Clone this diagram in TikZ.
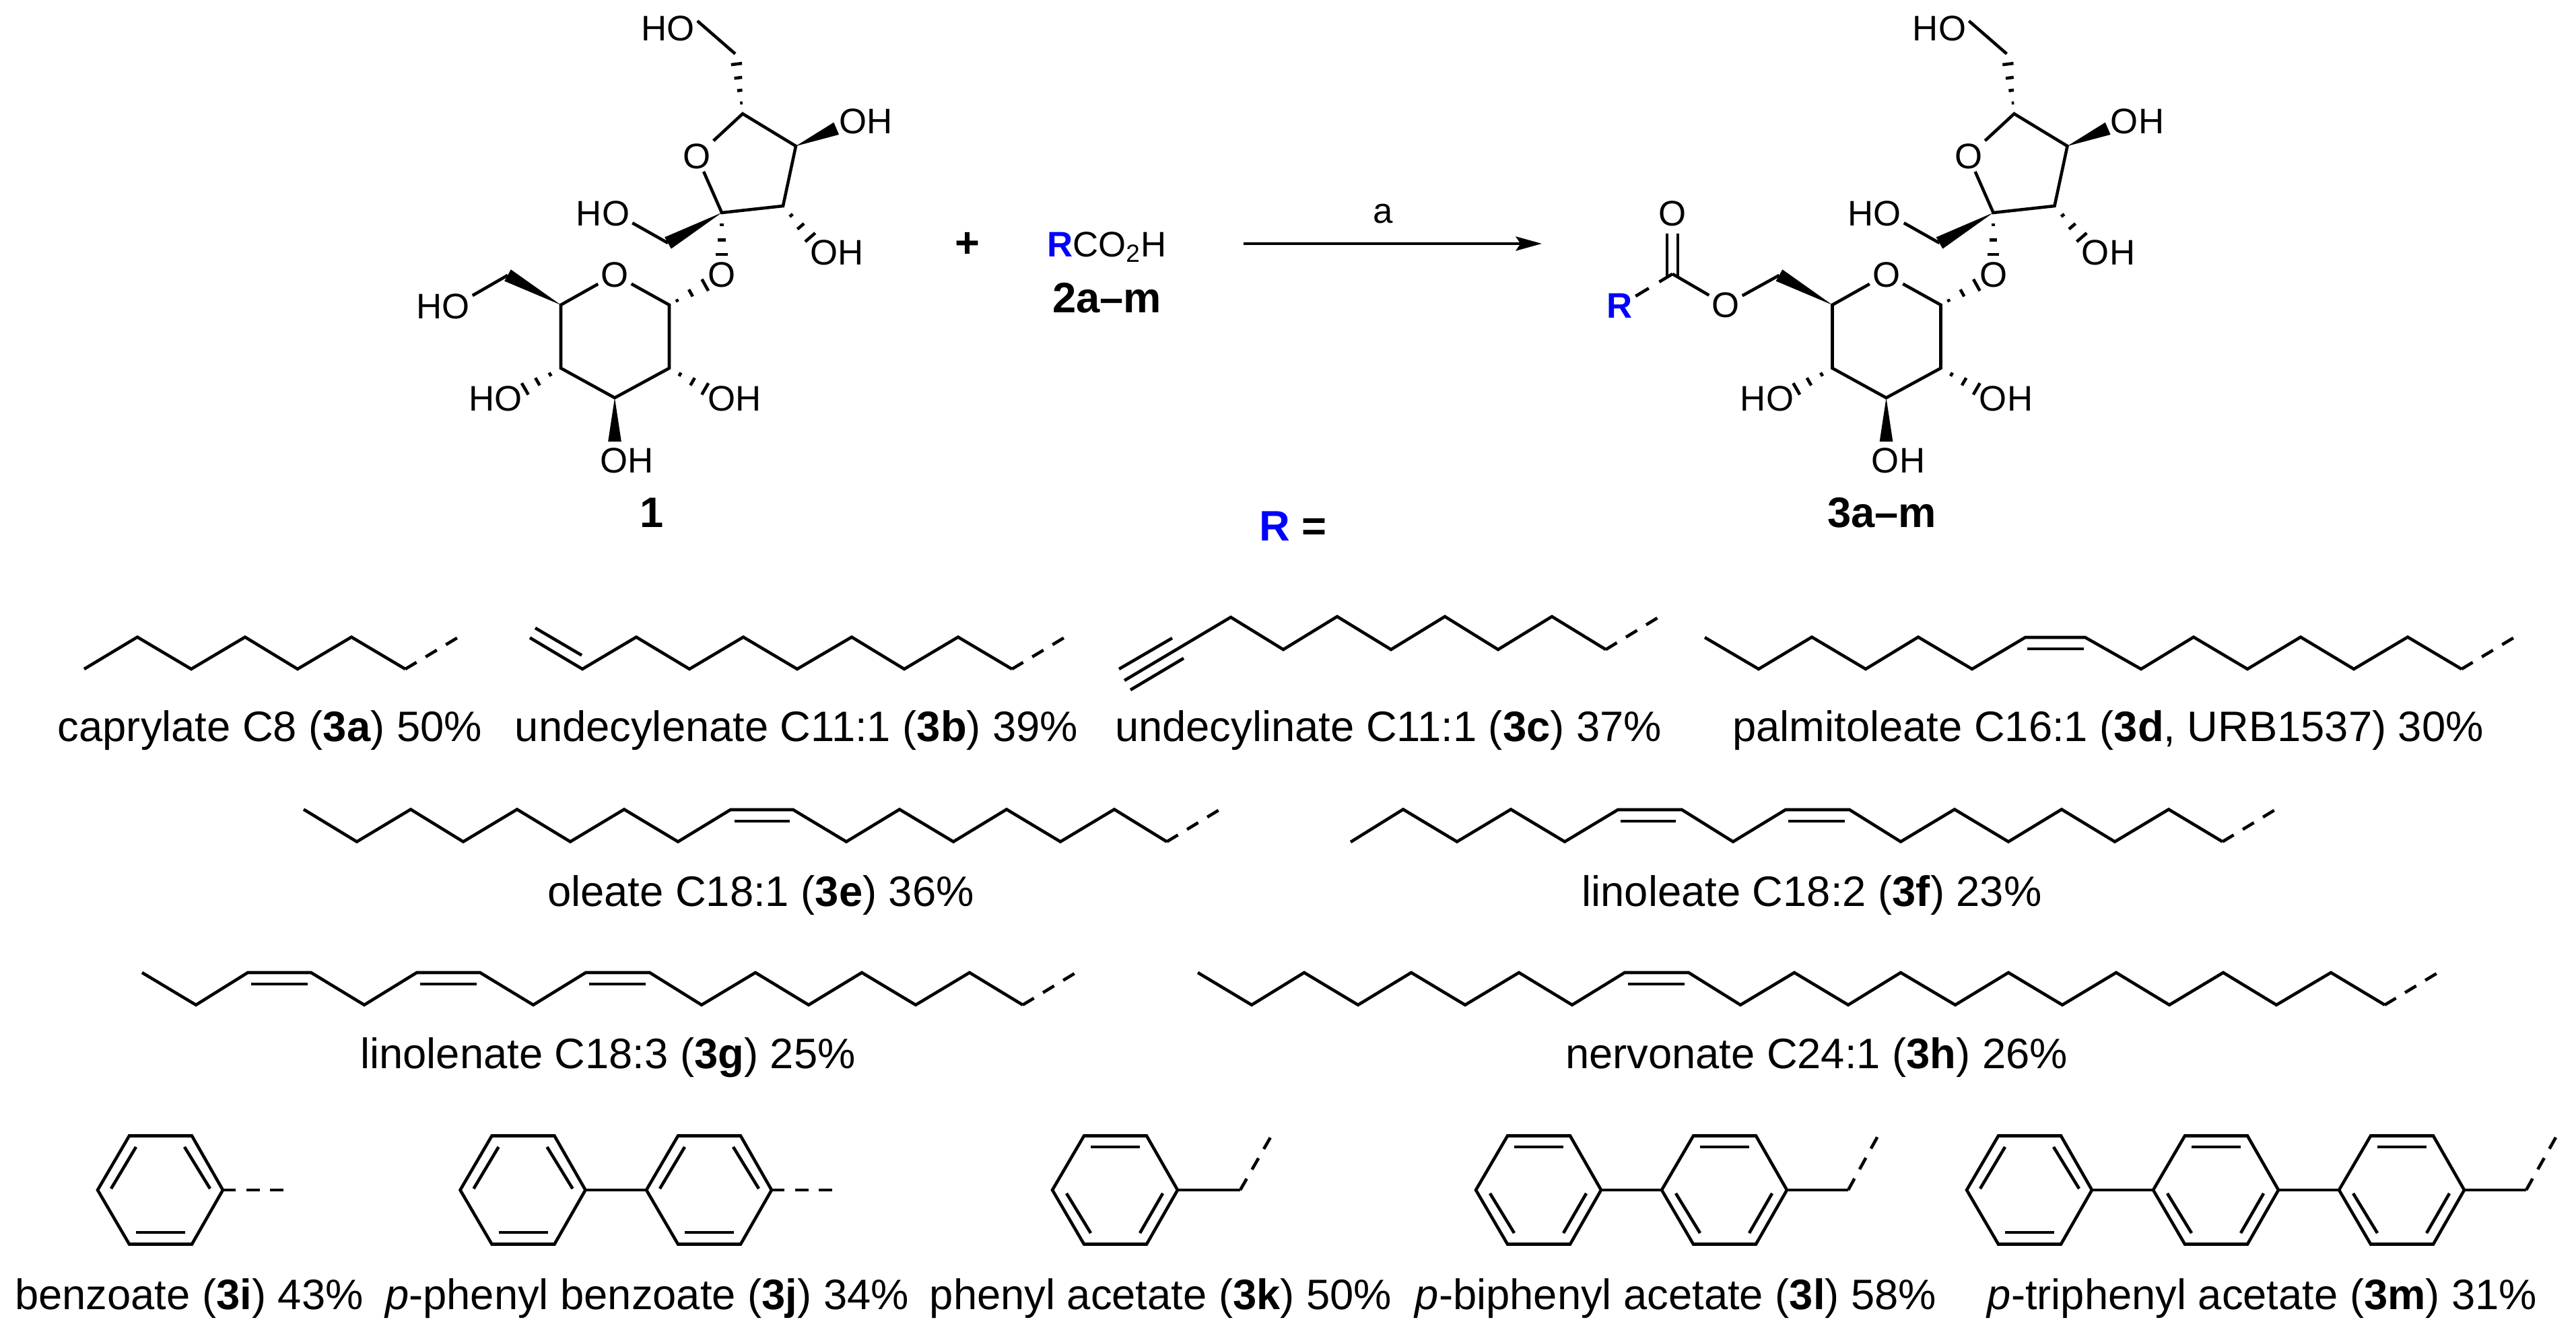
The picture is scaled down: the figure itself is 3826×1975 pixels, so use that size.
\documentclass[tikz,border=0pt]{standalone}
\usepackage{fontspec}
\setmainfont{Liberation Sans}
\usetikzlibrary{positioning,calc,arrows.meta}

\newcommand*{\atomfont}{\fontsize{15}{18}\selectfont}
\newcommand*{\labfont}{\fontsize{18}{20}\selectfont}

\tikzset{
    bond/.style={line width=1.3pt, line join=miter},
    dangle/.style={line width=1.3pt, dash pattern=on 5.5pt off 4.5pt},
    atom/.style={font=\atomfont, inner sep=1pt},
    lab/.style={font=\labfont, inner sep=0pt, anchor=base},
}

\newcommand*{\wedgebond}[2]{%
    \fill ($(#2)!2.8pt!90:(#1)$) -- (#1) -- ($(#2)!2.8pt!-90:(#1)$) -- cycle;
}
\newcommand*{\hashbond}[3][.3,.65,1]{%
    \foreach \frc in {#1} {
        \pgfmathsetmacro{\hw}{\frc*2.8}
        \coordinate (hm) at ($(#2)!\frc!(#3)$);
        \draw[bond] ($(hm)!\hw pt!90:(#2)$) -- ($(hm)!\hw pt!-90:(#2)$);
    }
}
% hexagon with two inner lines above, one below
\newcommand*{\ringup}[2]{%
    \draw[bond] (#2-93,1768) coordinate (#1l) -- ++(47,-80.5) -- ++(93,0) -- ++(46,80.5) coordinate (#1r) -- ++(-46,80.5) -- ++(-93,0) -- cycle;
    \draw[bond] (#2-36,1704) -- (#2-73,1766);
    \draw[bond] (#2+36,1704) -- (#2+74,1766);
    \draw[bond] (#2-36,1831) -- (#2+37,1831);
}
% hexagon with one inner line above, two below
\newcommand*{\ringdown}[2]{%
    \draw[bond] (#2-93,1768) coordinate (#1l) -- ++(47,-80.5) -- ++(93,0) -- ++(46,80.5) coordinate (#1r) -- ++(-46,80.5) -- ++(-93,0) -- cycle;
    \draw[bond] (#2-36,1704) -- (#2+37,1704);
    \draw[bond] (#2-72,1773) -- (#2-36,1832);
    \draw[bond] (#2+71,1773) -- (#2+37,1832);
}
\newcommand*{\sugarcore}{%
    \node[atom] (o5f) at (1035,232) {O};
    \node[atom] (ho6f) at (992,42) {HO};
    \node[atom] (oh4f) at (1286,180) {OH};
    \node[atom] (oh3f) at (1243,375.5) {OH};
    \node[atom] (ho1f) at (895.5,317) {HO};
    \node[atom] (og) at (1072,408) {O};
    \node[atom] (o5) at (913,408) {O};
    \node[atom] (oh2) at (1091,592) {OH};
    \node[atom] (ho4) at (736,592) {HO};
    \node[atom] (oh3) at (931,684) {OH};

    \coordinate (c6f) at (1092,80);
    \coordinate (c5f) at (1103,169);
    \coordinate (c4f) at (1182,217);
    \coordinate (c3f) at (1163,306);
    \coordinate (c2f) at (1072,316);
    \coordinate (c1f) at (992,361);
    \coordinate (c1) at (994,453);
    \coordinate (c2) at (994,547);
    \coordinate (c3) at (913,591);
    \coordinate (c4) at (833,547);
    \coordinate (c5) at (833,453);
    \coordinate (c6) at (754,409);
    \coordinate (c3w) at (913,656);

    \draw[bond] (o5f) -- (c5f) -- (c4f) -- (c3f) -- (c2f) -- (o5f);
    \draw[bond] (o5) -- (c1) -- (c2) -- (c3) -- (c4) -- (c5) -- (o5);
    \draw[bond] (c6f) -- (ho6f.14);
    \draw[bond] (c1f) -- (ho1f.342);

    \wedgebond{c4f}{oh4f.194}
    \wedgebond{c2f}{c1f}
    \wedgebond{c5}{c6}
    \wedgebond{c3}{c3w}

    \hashbond[.18,.39,.6,.83]{c5f}{c6f}
    \hashbond{c3f}{oh3f.150}
    \hashbond[.26,.59,.9]{c2f}{og.north}
    \hashbond[.22,.6,1]{c1}{og.212}
    \hashbond{c2}{oh2.162}
    \hashbond{c4}{ho4.18}
}

\begin{document}
\begin{tikzpicture}[x=0.01cm, y=-0.01cm, >={Stealth[length=11pt,width=6pt,inset=2pt]}]
    \useasboundingbox (0,0) rectangle (3826,1975);

    % sucrose
    \begin{scope}[name prefix=a-]
        \sugarcore
        \node[atom] (ho6) at (658,455) {HO};
        \draw[bond] (c6) -- (ho6.20);
    \end{scope}
    \node[lab, font=\labfont\bfseries] (oneLabel) at (968,783) {1};

    \node[lab, font=\labfont\bfseries, anchor=center] (plus) at (1437,364) {+};
    \node[atom, anchor=base, inner sep=0pt] (acid) at (1644,381) {\textcolor{blue}{\textbf{R}}CO\textsubscript{2}H};
    \node[lab, font=\labfont\bfseries] (twoLabel) at (1644,464) {2a--m};

    \coordinate (arrowL) at (1846.5,362);
    \coordinate (arrowR) at (2290,362);
    \draw[->, line width=1.15pt] (arrowL) -- (arrowR);
    \node[atom, anchor=base, inner sep=0pt] (reagent) at (2054,331) {a};

    % ester
    \begin{scope}[name prefix=b-, shift={(1888.5,0)}]
        \sugarcore
    \end{scope}
    \node[atom] (oEster) at (2563,453) {O};
    \node[atom] (oCarb) at (2484,317) {O};
    \node[atom, font=\atomfont\bfseries, text=blue] (rGroup) at (2406,454) {R};
    \coordinate (cCarb) at (2484,407);
    \draw[bond] (oEster) -- (b-c6);
    \draw[bond] (cCarb) -- (oEster);
    \draw[bond, shorten <=2pt, shorten >=-1pt] ([xshift=-2.3pt]oCarb.south) -- ([xshift=-2.3pt]cCarb);
    \draw[bond, shorten <=2pt, shorten >=-1pt] ([xshift=2.3pt]oCarb.south) -- ([xshift=2.3pt]cCarb);
    \draw[bond, dash pattern=on 6.5pt off 5.2pt] (cCarb) -- (rGroup.31);
    \node[lab, font=\labfont\bfseries] (threeLabel) at (2795,783) {3a--m};
    \node[lab, font=\labfont\bfseries, anchor=base west] (rLabel) at (1869.5,803) {\textcolor{blue}{R} =};

    % first row of chains
    \draw[bond] (125,994) -- (204,946.5) -- (284,994) -- (364,946.5) -- (442,994) -- (522,946.5) -- (602,994) coordinate (endA);
    \draw[dangle] (endA) -- ++(79,-47.5);
    \node[lab] (aLabel) at (401,1101) {caprylate C8 (\textbf{3a}) 50\%};

    \draw[bond] (787,947.5) -- (865,994) -- (945,946.5) -- (1024,994) -- (1104,946.5) -- (1184,994) -- (1265,946.5) -- (1343,994) -- (1423,946.5) -- (1503,994) coordinate (endB);
    \draw[bond] (795,933) -- (864,973.5);
    \draw[dangle] (endB) -- ++(79,-47.5);
    \node[lab] (bLabel) at (1183,1101) {undecylenate C11:1 (\textbf{3b}) 39\%};

    \draw[bond] (1670,1011) -- (1828,917) -- (1906,965) -- (1986,916) -- (2066,965) -- (2146,916) -- (2225,965) -- (2305,916) -- (2385,965) coordinate (endC);
    \draw[bond] (1662,994) -- (1741,948);
    \draw[bond] (1679,1025) -- (1758,978);
    \draw[dangle] (endC) -- ++(80,-49);
    \node[lab] (cLabel) at (2062,1101) {undecylinate C11:1 (\textbf{3c}) 37\%};

    \draw[bond] (2532,947) -- (2612,994) -- (2691,946.5) -- (2771,994) -- (2849,946.5) -- (2929,994) -- (3008,947) -- (3097,947) -- (3180,994) -- (3258,946.5) -- (3338,994) -- (3417,946.5) -- (3496,994) -- (3576,946.5) -- (3656,994) coordinate (endD);
    \draw[bond] (3011,964) -- (3095,964);
    \draw[dangle] (endD) -- ++(79,-47.5);
    \node[lab] (dLabel) at (3131,1101) {palmitoleate C16:1 (\textbf{3d}, URB1537) 30\%};

    % second row of chains
    \draw[bond] (451,1202.5) -- (530,1250.5) -- (610,1202.5) -- (688,1250.5) -- (768,1202.5) -- (847,1250.5) -- (927,1202.5) -- (1007,1250.5) -- (1085,1203) -- (1178,1203) -- (1257,1250.5) -- (1336,1202.5) -- (1416,1250.5) -- (1495,1202.5) -- (1575,1250.5) -- (1655,1202.5) -- (1733,1250.5) coordinate (endE);
    \draw[bond] (1091,1220) -- (1173,1220);
    \draw[dangle] (endE) -- ++(79,-48);
    \node[lab] (eLabel) at (1130,1346) {oleate C18:1 (\textbf{3e}) 36\%};

    \draw[bond] (2006,1251) -- (2084,1202.5) -- (2164,1250.5) -- (2244,1202.5) -- (2324,1250.5) -- (2403,1203) -- (2498,1203) -- (2574,1250.5) -- (2652,1203) -- (2747,1203) -- (2823,1250.5) -- (2903,1202.5) -- (2983,1250.5) -- (3062,1202.5) -- (3141,1250.5) -- (3221,1202.5) -- (3301,1250.5) coordinate (endF);
    \draw[bond] (2407,1220) -- (2489,1220);
    \draw[bond] (2656,1220) -- (2740,1220);
    \draw[dangle] (endF) -- ++(79,-48);
    \node[lab] (fLabel) at (2691,1346) {linoleate C18:2 (\textbf{3f}) 23\%};

    % third row of chains
    \draw[bond] (211,1445) -- (291,1493) -- (368,1445) -- (462,1445) -- (541,1493) -- (619,1445) -- (713,1445) -- (792,1493) -- (870,1445) -- (965,1445) -- (1042,1493) -- (1122,1445) -- (1201,1493) -- (1280,1445) -- (1360,1493) -- (1440,1445) -- (1519,1493) coordinate (endG);
    \draw[bond] (373,1462) -- (457,1462);
    \draw[bond] (624,1462) -- (708,1462);
    \draw[bond] (875,1462) -- (959,1462);
    \draw[dangle] (endG) -- ++(79,-48);
    \node[lab] (gLabel) at (903,1587.5) {linolenate C18:3 (\textbf{3g}) 25\%};

    \draw[bond] (1779,1445) -- (1859,1493) -- (1937,1445) -- (2017,1493) -- (2096,1445) -- (2176,1493) -- (2256,1445) -- (2335,1493) -- (2413,1445) -- (2508,1445) -- (2585,1493) -- (2665,1445) -- (2745,1493) -- (2823,1445) -- (2904,1493) -- (2983,1445) -- (3063,1493) -- (3143,1445) -- (3222,1493) -- (3302,1445) -- (3381,1493) -- (3462,1445) -- (3542,1493) coordinate (endH);
    \draw[bond] (2418,1462) -- (2502,1462);
    \draw[dangle] (endH) -- ++(79,-48);
    \node[lab] (hLabel) at (2698,1587.5) {nervonate C24:1 (\textbf{3h}) 26\%};

    % aryl groups
    \ringup{i}{238}
    \draw[dangle] (ir) -- ++(92,0);
    \node[lab] (iLabel) at (281,1945.5) {benzoate (\textbf{3i}) 43\%};

    \ringup{ja}{776.5}
    \ringup{jb}{1053}
    \draw[bond] (jar) -- (jbl);
    \draw[dangle] (jbr) -- ++(92,0);
    \node[lab] (jLabel) at (961,1945.5) {\textit{p}-phenyl benzoate (\textbf{3j}) 34\%};

    \ringdown{k}{1656}
    \coordinate (kc) at (1842,1768);
    \draw[bond] (kr) -- (kc);
    \draw[dangle] (kc) -- ++(46,-80);
    \node[lab] (kLabel) at (1724,1945.5) {phenyl acetate (\textbf{3k}) 50\%};

    \ringdown{la}{2285}
    \ringdown{lb}{2561}
    \coordinate (lc) at (2745,1768);
    \draw[bond] (lar) -- (lbl);
    \draw[bond] (lbr) -- (lc);
    \draw[dangle] (lc) -- ++(44,-80);
    \node[lab] (lLabel) at (2489,1945.5) {\textit{p}-biphenyl acetate (\textbf{3l}) 58\%};

    \ringup{ma}{3014}
    \ringdown{mb}{3291}
    \ringdown{mc}{3567}
    \coordinate (mc) at (3752,1768);
    \draw[bond] (mar) -- (mbl);
    \draw[bond] (mbr) -- (mcl);
    \draw[bond] (mcr) -- (mc);
    \draw[dangle] (mc) -- ++(45,-80);
    \node[lab] (mLabel) at (3360,1945.5) {\textit{p}-triphenyl acetate (\textbf{3m}) 31\%};
\end{tikzpicture}
\end{document}
